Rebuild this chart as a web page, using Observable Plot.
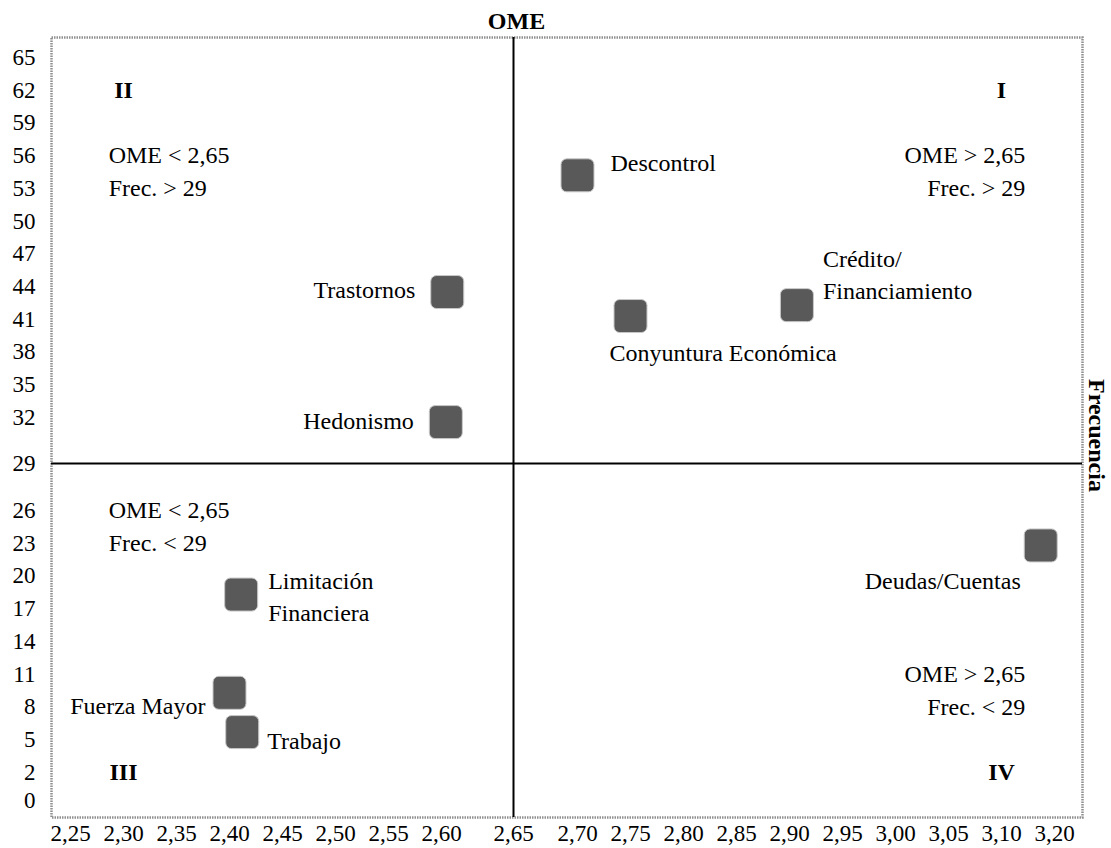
<!DOCTYPE html>
<html><head><meta charset="utf-8">
<script src="https://cdn.jsdelivr.net/npm/d3@7"></script>
<script src="https://cdn.jsdelivr.net/npm/@observablehq/plot@0.6"></script>
<style>body{margin:0;background:#fff;}</style>
</head><body><div id="chart"></div>
<script>
// ---- data ----
const factors = ["Descontrol","Trastornos","Hedonismo","Conyuntura Económica","Crédito/\nFinanciamiento","Deudas/Cuentas","Limitación\nFinanciera","Fuerza Mayor","Trabajo"];
const omeValues = [2.70, 2.604, 2.603, 2.75, 2.907, 3.174, 2.411, 2.40, 2.412];
const frecValues = [54.2, 43.5, 31.7, 41.3, 42.3, 22.8, 18.3, 9.3, 5.7];
const xTicks = [2.25,2.30,2.35,2.40,2.45,2.50,2.55,2.60,2.65,2.70,2.75,2.80,2.85,2.90,2.95,3.00,3.05,3.10,3.20];
const yTicks = [65,62,59,56,53,50,47,44,41,38,35,32,29,26,23,20,17,14,11,8,5,2,0];
const quadNames = ["I","II","III","IV"];
const quadX = [3.10, 2.30, 2.30, 3.10];
const quadY = [62, 62, 2, 2];
const condText = ["OME < 2,65","Frec. > 29","OME > 2,65","Frec. > 29","OME < 2,65","Frec. < 29","OME > 2,65","Frec. < 29"];
const condX = [2.286, 2.286, 3.145, 3.145, 2.286, 2.286, 3.145, 3.145];
const condY = [56, 53, 56, 53, 26, 23, 11, 8];
const crossX = 2.65, crossY = 29;

const points = factors.map((name, i) => ({name, ome: omeValues[i], frec: frecValues[i]}));
const quads = quadNames.map((q, i) => ({q, x: quadX[i], y: quadY[i]}));
const conds = condText.map((t, i) => ({t, x: condX[i], y: condY[i]}));

const roundSquare = {
  draw(ctx, size) {
    const h = Math.sqrt(size / Math.PI);
    const rr = h * 0.35;
    ctx.moveTo(-h + rr, -h);
    ctx.lineTo(h - rr, -h);
    ctx.arcTo(h, -h, h, -h + rr, rr);
    ctx.lineTo(h, h - rr);
    ctx.arcTo(h, h, h - rr, h, rr);
    ctx.lineTo(-h + rr, h);
    ctx.arcTo(-h, h, -h, h - rr, rr);
    ctx.lineTo(-h, -h + rr);
    ctx.arcTo(-h, -h, -h + rr, -h, rr);
    ctx.closePath();
  }
};

const fmt = d => d3.format(".2f")(d).replace(".", ",");
const FS = 24;   // in-chart text
const FT = 23;   // tick labels
const label = (name, anchor, dx, dy) => Plot.text(points.filter(d => d.name === name), {
  x: "ome", y: "frec", text: "name", textAnchor: anchor, dx, dy, lineHeight: 1.33, fontSize: FS, fill: "black"
});

const chart = Plot.plot({
  width: 1111, height: 848,
  marginLeft: 51, marginRight: 29, marginTop: 37, marginBottom: 31,
  style: {fontFamily: "'Liberation Serif', 'Times New Roman', serif", fontSize: FS + "px", background: "white", color: "black"},
  x: {type: "linear", domain: [2.22, 2.25, 2.60, 2.65, 2.70, 3.10, 3.20, 3.245], range: [51, 70, 441, 513, 577, 1001, 1054, 1082]},
  y: {type: "linear", domain: [-1.2, 0, 2, 26, 29, 32, 65, 66.8], range: [817, 800, 772, 510, 463, 417, 57, 37]},
  marks: [
    Plot.frame({stroke: "#909090", strokeWidth: 2.5, strokeDasharray: "1.5,1"}),
    Plot.ruleX([crossX], {stroke: "black", strokeWidth: 2}),
    Plot.ruleY([crossY], {stroke: "black", strokeWidth: 2}),
    Plot.axisX(xTicks, {tickSize: 0, tickPadding: 7, tickFormat: fmt, fontSize: FT, label: null}),
    Plot.axisY(yTicks, {tickSize: 0, tickPadding: 16, tickFormat: d => String(d), fontSize: FT, label: null}),
    Plot.text([crossX], {x: d => d, frameAnchor: "top", text: () => "OME", dx: 3, dy: -26, fontWeight: "bold", fontSize: FS}),
    Plot.text(["Frecuencia"], {frameAnchor: "right", textAnchor: "middle", text: d => d, rotate: 90, dx: 14, dy: 8, fontWeight: "bold", fontSize: FS}),
    Plot.text(quads, {x: "x", y: "y", text: "q", fontWeight: "bold", fontSize: FS}),
    Plot.text(conds.filter(d => d.x < crossX), {x: "x", y: "y", text: "t", textAnchor: "start", fontSize: FS}),
    Plot.text(conds.filter(d => d.x > crossX), {x: "x", y: "y", text: "t", textAnchor: "end", fontSize: FS}),
    Plot.dot(points, {x: "ome", y: "frec", symbol: roundSquare, r: 16.5, fill: "#595959", stroke: "#c8c8c8", strokeWidth: 1}),
    label("Descontrol", "start", 33, -15),
    label("Trastornos", "end", -32, -4),
    label("Hedonismo", "end", -32, -3),
    label("Conyuntura Económica", "start", -21, 35),
    label("Crédito/\nFinanciamiento", "start", 26, -32),
    label("Deudas/Cuentas", "end", -20, 33),
    label("Limitación\nFinanciera", "start", 27, 0),
    label("Fuerza Mayor", "end", -24, 11),
    label("Trabajo", "start", 25, 7)
  ]
});
document.getElementById("chart").appendChild(chart);
</script>
</body></html>
